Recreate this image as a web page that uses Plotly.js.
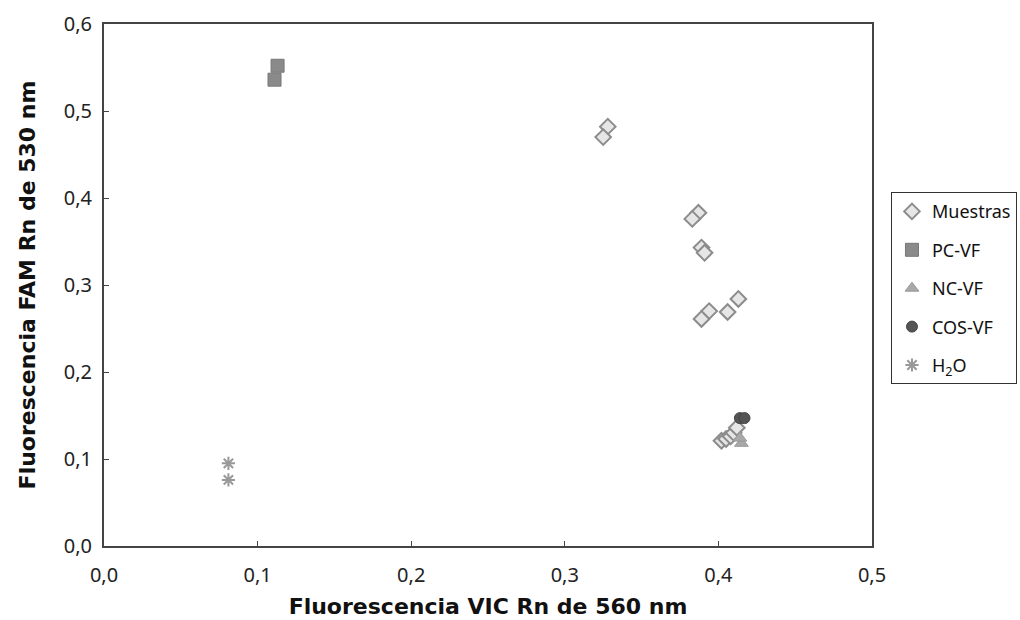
<!DOCTYPE html>
<html>
<head>
<meta charset="utf-8">
<script src="https://cdn.plot.ly/plotly-3.0.1.min.js"></script>
<style>html,body{margin:0;padding:0;background:#fff;}#chart{width:1020px;height:620px;}</style>
</head>
<body>
<div id="chart"></div>
<script>
// Series names
const seriesNames = ["Muestras", "PC-VF", "NC-VF", "COS-VF", "H<sub>2</sub>O"];

// Muestras (diamonds)
const muestrasX = [0.328, 0.325, 0.387, 0.383, 0.389, 0.391, 0.394, 0.389, 0.406, 0.413, 0.402, 0.405, 0.408, 0.410, 0.412];
const muestrasY = [0.482, 0.470, 0.383, 0.376, 0.343, 0.337, 0.270, 0.261, 0.269, 0.284, 0.121, 0.123, 0.126, 0.130, 0.136];

// PC-VF (squares)
const pcX = [0.113, 0.111];
const pcY = [0.552, 0.536];

// NC-VF (triangles)
const ncX = [0.415, 0.414];
const ncY = [0.118, 0.124];

// COS-VF (circles)
const cosX = [0.414, 0.417];
const cosY = [0.147, 0.147];

// H2O (asterisks)
const h2oX = [0.081, 0.081];
const h2oY = [0.095, 0.076];

const xTicks = [0, 0.1, 0.2, 0.3, 0.4, 0.5];
const yTicks = [0, 0.1, 0.2, 0.3, 0.4, 0.5, 0.6];

const traces = [
  {x: muestrasX, y: muestrasY, name: seriesNames[0], legendgroup: 'g1', mode: 'markers', type: 'scatter',
   marker: {symbol: 'diamond', size: 12, color: '#e6e6e6', line: {color: '#8c8c8c', width: 2}}},
  {x: pcX, y: pcY, name: seriesNames[1], legendgroup: 'g2', mode: 'markers', type: 'scatter',
   marker: {symbol: 'square', size: 13, color: '#8a8a8a', line: {color: '#777', width: 1}}},
  {x: ncX, y: ncY, name: seriesNames[2], legendgroup: 'g3', mode: 'markers', type: 'scatter',
   marker: {symbol: 'triangle-up', size: 12, color: '#a8a8a8', line: {color: '#999', width: 1}}},
  {x: cosX, y: cosY, name: seriesNames[3], legendgroup: 'g4', mode: 'markers', type: 'scatter',
   marker: {symbol: 'circle', size: 11, color: '#555', line: {color: '#444', width: 1}}},
  {x: h2oX, y: h2oY, name: seriesNames[4], legendgroup: 'g5', mode: 'markers', type: 'scatter',
   marker: {symbol: 'asterisk-open', size: 11, color: '#999', line: {color: '#999', width: 2}}}
];

const fontFam = 'Noto Sans, Lato, sans-serif';
const titleFam = 'DejaVu Sans, sans-serif';

const layout = {
  width: 1020, height: 620,
  margin: {l: 104, r: 148, t: 24, b: 74},
  paper_bgcolor: '#fff', plot_bgcolor: '#fff',
  separators: ', ',
  font: {family: fontFam, size: 18, color: '#222'},
  showlegend: true,
  legend: {
    xref: 'container', yref: 'container',
    x: 0.8735, y: 0.690, xanchor: 'left', yanchor: 'top',
    bordercolor: '#333', borderwidth: 1,
    font: {family: fontFam, size: 18, color: '#111'},
    tracegroupgap: 12,
    itemwidth: 30
  },
  xaxis: {
    range: [0, 0.5], tickvals: xTicks, tickformat: '.1f',
    showgrid: false, zeroline: false,
    showline: true, mirror: true, linecolor: '#444', linewidth: 2,
    ticks: 'inside', ticklen: 5, tickcolor: '#444',
    ticklabelstandoff: 10,
    tickfont: {size: 20, color: '#222'},
    automargin: false,
    title: {text: 'Fluorescencia VIC Rn de 560 nm', font: {size: 22, family: titleFam, weight: 'bold', color: '#111'}, standoff: 12}
  },
  yaxis: {
    range: [0, 0.6], tickvals: yTicks, tickformat: '.1f',
    showgrid: false, zeroline: false,
    showline: true, mirror: true, linecolor: '#444', linewidth: 2,
    ticks: 'inside', ticklen: 5, tickcolor: '#444',
    ticklabelstandoff: 6,
    tickfont: {size: 20, color: '#222'},
    automargin: false,
    title: {text: 'Fluorescencia FAM Rn de 530 nm', font: {size: 22, family: titleFam, weight: 'bold', color: '#111'}, standoff: 22}
  }
};

Plotly.newPlot('chart', traces, layout, {displayModeBar: false, staticPlot: true});
</script>
</body>
</html>
